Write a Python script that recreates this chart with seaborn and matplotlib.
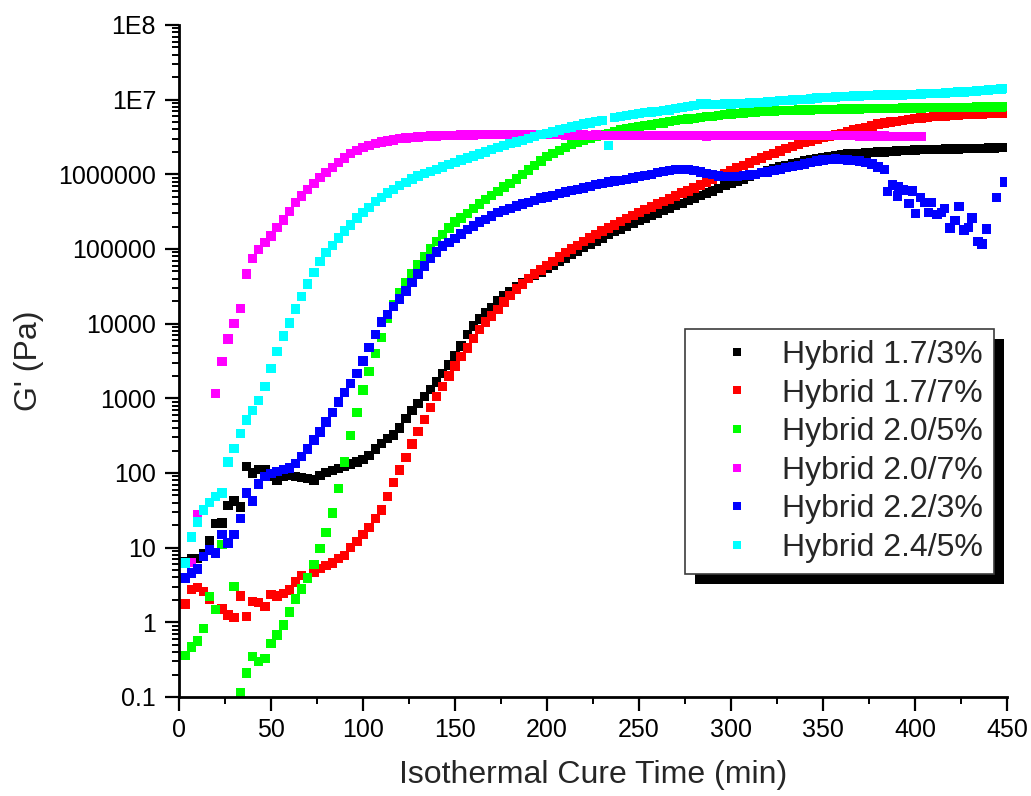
import numpy as np
import pandas as pd
import matplotlib
matplotlib.use("Agg")
import matplotlib.pyplot as plt
from matplotlib.lines import Line2D
from matplotlib.patches import Rectangle
from matplotlib.ticker import FixedLocator, FixedFormatter, LogLocator, MultipleLocator, NullFormatter
import seaborn as sns

# Rheometer sampling instants (min), one reading every 200 s
time_min = [
    3.3, 6.7, 10.0, 13.3, 16.7, 20.0, 23.3, 26.7, 30.0,
    33.3, 36.7, 40.0, 43.3, 46.7, 50.0, 53.3, 56.7, 60.0,
    63.3, 66.7, 70.0, 73.3, 76.7, 80.0, 83.3, 86.7, 90.0,
    93.3, 96.7, 100.0, 103.3, 106.7, 110.0, 113.3, 116.7, 120.0,
    123.3, 126.7, 130.0, 133.3, 136.7, 140.0, 143.3, 146.7, 150.0,
    153.3, 156.7, 160.0, 163.3, 166.7, 170.0, 173.3, 176.7, 180.0,
    183.3, 186.7, 190.0, 193.3, 196.7, 200.0, 203.3, 206.7, 210.0,
    213.3, 216.7, 220.0, 223.3, 226.7, 230.0, 233.3, 236.7, 240.0,
    243.3, 246.7, 250.0, 253.3, 256.7, 260.0, 263.3, 266.7, 270.0,
    273.3, 276.7, 280.0, 283.3, 286.7, 290.0, 293.3, 296.7, 300.0,
    303.3, 306.7, 310.0, 313.3, 316.7, 320.0, 323.3, 326.7, 330.0,
    333.3, 336.7, 340.0, 343.3, 346.7, 350.0, 353.3, 356.7, 360.0,
    363.3, 366.7, 370.0, 373.3, 376.7, 380.0, 383.3, 386.7, 390.0,
    393.3, 396.7, 400.0, 403.3, 406.7, 410.0, 413.3, 416.7, 420.0,
    423.3, 426.7, 430.0, 433.3, 436.7, 440.0, 443.3, 446.7, 450.0,
]

nan = np.nan

# Storage modulus G' (Pa) per sample
g_hybrid_17_3 = [
    6.5, 7.1, 7.2, 8.3, 12.3, 21, 21.5, 37, 42,
    35, 123, 100, 112, 112, 89, 81, 89, 93,
    89, 87, 85, 81, 93, 102, 107, 115, 123,
    132, 141, 151, 170, 209, 250, 288, 324, 400,
    540, 690, 850, 1050, 1320, 1660, 2140, 2800, 3700,
    5000, 7100, 9300, 1.15e4, 1.38e4, 1.66e4, 2.0e4, 2.35e4, 2.7e4,
    3.1e4, 3.55e4, 4.0e4, 4.4e4, 4.9e4, 5.5e4, 6.1e4, 6.8e4, 7.6e4,
    8.4e4, 9.3e4, 1.05e5, 1.15e5, 1.27e5, 1.41e5, 1.55e5, 1.7e5, 1.86e5,
    2.0e5, 2.2e5, 2.4e5, 2.57e5, 2.8e5, 3.0e5, 3.25e5, 3.5e5, 3.8e5,
    4.1e5, 4.45e5, 4.8e5, 5.2e5, 5.6e5, 6.0e5, 6.5e5, 7.1e5, 7.6e5,
    8.1e5, 8.7e5, 9.3e5, 9.9e5, 1.05e6, 1.12e6, 1.19e6, 1.26e6, 1.32e6,
    1.38e6, 1.45e6, 1.51e6, 1.57e6, 1.62e6, 1.66e6, 1.72e6, 1.78e6, 1.82e6,
    1.86e6, 1.88e6, 1.9e6, 1.93e6, 1.95e6, 2.0e6, 2.0e6, 2.02e6, 2.04e6,
    2.07e6, 2.09e6, 2.11e6, 2.14e6, 2.14e6, 2.15e6, 2.16e6, 2.17e6, 2.18e6,
    2.19e6, 2.2e6, 2.21e6, 2.22e6, 2.23e6, 2.24e6, 2.25e6, 2.27e6, 2.29e6,
]

g_hybrid_17_7 = [
    1.75, 2.75, 2.9, 2.6, 2.05, 1.48, 1.5, 1.26, 1.17,
    2.25, 1.2, 1.9, 1.85, 1.62, 2.35, 2.25, 2.45, 2.7,
    3.45, 4.25, 3.9, 4.7, 5.25, 5.75, 6.2, 7.1, 7.9,
    10, 12, 15, 18.6, 24.5, 32, 48, 74, 110,
    162, 245, 360, 525, 760, 1050, 1450, 2000, 2700,
    3600, 4700, 6300, 8300, 1.05e4, 1.26e4, 1.55e4, 1.95e4, 2.4e4,
    2.9e4, 3.4e4, 4.0e4, 4.6e4, 5.2e4, 6.0e4, 6.8e4, 7.8e4, 8.9e4,
    1.0e5, 1.12e5, 1.26e5, 1.4e5, 1.55e5, 1.74e5, 1.9e5, 2.1e5, 2.35e5,
    2.55e5, 2.8e5, 3.1e5, 3.35e5, 3.65e5, 4.0e5, 4.3e5, 4.7e5, 5.1e5,
    5.6e5, 6.0e5, 6.6e5, 7.2e5, 7.9e5, 8.7e5, 9.4e5, 1.02e6, 1.12e6,
    1.22e6, 1.32e6, 1.41e6, 1.53e6, 1.66e6, 1.78e6, 1.9e6, 2.04e6, 2.2e6,
    2.35e6, 2.5e6, 2.65e6, 2.8e6, 2.95e6, 3.1e6, 3.25e6, 3.4e6, 3.55e6,
    3.7e6, 3.9e6, 4.1e6, 4.25e6, 4.45e6, 4.7e6, 4.85e6, 5.0e6, 5.1e6,
    5.25e6, 5.4e6, 5.55e6, 5.7e6, 5.8e6, 5.9e6, 5.95e6, 6.0e6, 6.15e6,
    6.2e6, 6.3e6, 6.35e6, 6.4e6, 6.45e6, 6.5e6, 6.55e6, 6.6e6, 6.6e6,
]

g_hybrid_20_5 = [
    0.36, 0.47, 0.56, 0.83, 2.2, 1.48, 11, nan, 3.0,
    0.115, 0.21, 0.35, 0.30, 0.33, 0.52, 0.68, 0.92, 1.38,
    2.05, 2.8, 3.9, 5.9, 9.8, 16, 29, 62, 140,
    320, 650, 1300, 2300, 4000, 6500, 1.17e4, 1.8e4, 2.6e4,
    3.5e4, 4.7e4, 6.2e4, 7.9e4, 1.0e5, 1.26e5, 1.55e5, 1.9e5, 2.3e5,
    2.6e5, 3.0e5, 3.5e5, 4.0e5, 4.6e5, 5.2e5, 5.9e5, 6.8e5, 7.6e5,
    8.7e5, 1.0e6, 1.15e6, 1.32e6, 1.51e6, 1.72e6, 1.9e6, 2.1e6, 2.3e6,
    2.5e6, 2.7e6, 2.85e6, 3.0e6, 3.25e6, 3.4e6, 3.55e6, 3.7e6, 3.9e6,
    4.05e6, 4.25e6, 4.4e6, 4.5e6, 4.6e6, 4.8e6, 4.9e6, 5.1e6, 5.25e6,
    5.4e6, 5.5e6, 5.6e6, 5.8e6, 5.9e6, 6.0e6, 6.15e6, 6.3e6, 6.4e6,
    6.5e6, 6.6e6, 6.75e6, 6.85e6, 6.9e6, 7.0e6, 7.05e6, 7.1e6, 7.15e6,
    7.2e6, 7.25e6, 7.3e6, 7.3e6, 7.35e6, 7.35e6, 7.4e6, 7.4e6, 7.45e6,
    7.45e6, 7.5e6, 7.5e6, 7.55e6, 7.55e6, 7.6e6, 7.6e6, 7.65e6, 7.65e6,
    7.7e6, 7.7e6, 7.75e6, 7.75e6, 7.8e6, 7.8e6, 7.8e6, 7.85e6, 7.85e6,
    7.9e6, 7.9e6, 7.9e6, 7.95e6, 7.95e6, 8.0e6, 8.0e6, 8.0e6, 8.05e6,
]

g_hybrid_20_7 = [
    3.9, 6.3, 28, nan, nan, 1170, 3100, 6200, 1.0e4,
    1.6e4, 4.6e4, 7.4e4, 9.9e4, 1.23e5, 1.5e5, 1.95e5, 2.45e5, 3.2e5,
    4.2e5, 5.1e5, 6.3e5, 7.6e5, 9.1e5, 1.05e6, 1.23e6, 1.45e6, 1.66e6,
    1.9e6, 2.1e6, 2.3e6, 2.45e6, 2.6e6, 2.7e6, 2.8e6, 2.9e6, 3.0e6,
    3.05e6, 3.1e6, 3.15e6, 3.2e6, 3.25e6, 3.25e6, 3.3e6, 3.3e6, 3.3e6,
    3.35e6, 3.35e6, 3.35e6, 3.4e6, 3.4e6, 3.4e6, 3.4e6, 3.4e6, 3.4e6,
    3.4e6, 3.4e6, 3.4e6, 3.4e6, 3.4e6, 3.4e6, 3.4e6, 3.4e6, 3.35e6,
    3.35e6, 3.35e6, 3.35e6, 3.3e6, 3.35e6, 3.3e6, 3.3e6, 3.3e6, 3.3e6,
    3.3e6, 3.3e6, 3.3e6, 3.3e6, 3.3e6, 3.3e6, 3.3e6, 3.3e6, 3.3e6,
    3.3e6, 3.3e6, 3.3e6, 3.3e6, 3.25e6, 3.3e6, 3.3e6, 3.3e6, 3.3e6,
    3.3e6, 3.3e6, 3.3e6, 3.3e6, 3.3e6, 3.3e6, 3.3e6, 3.3e6, 3.3e6,
    3.3e6, 3.3e6, 3.3e6, 3.3e6, 3.3e6, 3.3e6, 3.3e6, 3.3e6, 3.3e6,
    3.3e6, 3.3e6, 3.25e6, 3.25e6, 3.25e6, 3.25e6, 3.25e6, 3.2e6, 3.2e6,
    3.2e6, 3.2e6, 3.2e6, 3.2e6, nan, nan, nan, nan, nan,
    nan, nan, nan, nan, nan, nan, nan, nan, nan,
]

g_hybrid_22_3 = [
    3.9, 4.6, 5.2, 7.6, 9.3, 8.5, 15, 11.5, 15,
    24.5, 54, 42, 71, 89, 98, 105, 112, 117,
    135, 166, 209, 275, 355, 480, 650, 890, 1200,
    1580, 2140, 3160, 4800, 7200, 1.05e4, 1.32e4, 1.7e4, 2.15e4,
    2.75e4, 3.55e4, 4.6e4, 5.9e4, 7.4e4, 9.1e4, 1.1e5, 1.23e5, 1.38e5,
    1.58e5, 1.82e5, 2.04e5, 2.3e5, 2.5e5, 2.75e5, 3.1e5, 3.3e5, 3.5e5,
    3.75e5, 4.0e5, 4.2e5, 4.5e5, 4.8e5, 5.0e5, 5.25e5, 5.5e5, 5.8e5,
    6.1e5, 6.3e5, 6.6e5, 6.9e5, 7.3e5, 7.6e5, 7.85e5, 8.1e5, 8.3e5,
    8.6e5, 8.9e5, 9.3e5, 9.7e5, 1.0e6, 1.05e6, 1.1e6, 1.13e6, 1.16e6,
    1.17e6, 1.16e6, 1.12e6, 1.08e6, 1.02e6, 9.9e5, 9.5e5, 9.3e5, 9.3e5,
    9.4e5, 9.6e5, 9.8e5, 1.0e6, 1.05e6, 1.08e6, 1.12e6, 1.17e6, 1.23e6,
    1.27e6, 1.32e6, 1.38e6, 1.45e6, 1.5e6, 1.55e6, 1.58e6, 1.6e6, 1.58e6,
    1.55e6, 1.53e6, 1.5e6, 1.45e6, 1.38e6, 1.26e6, 1.17e6, nan, nan,
    nan, nan, nan, nan, nan, nan, nan, nan, nan,
    nan, nan, nan, nan, nan, nan, nan, nan, nan,
]

# Late readings of the 2.2/3% sample, taken once the gel began to slip
tail_time_22_3 = [
    385.0, 387.9, 390.4, 391.0, 393.7, 396.7, 398.7, 400.2, 403.0,
    405.4, 407.2, 409.0, 412.0, 414.5, 416.0, 419.0, 421.7, 424.0,
    426.6, 429.0, 431.0, 434.2, 436.4, 439.0, 444.4, 449.0,
]
tail_g_22_3 = [
    5.9e5, 7.2e5, 5.1e5, 6.9e5, 6.2e5, 4.1e5, 6.0e5, 3.0e5, 4.9e5,
    4.2e5, 3.1e5, 4.2e5, 2.9e5, 3.1e5, 3.5e5, 1.9e5, 2.4e5, 3.7e5,
    1.8e5, 1.95e5, 2.6e5, 1.26e5, 1.17e5, 1.86e5, 4.9e5, 7.9e5,
]

g_hybrid_24_5 = [
    6.2, 13.8, 22, 32, 40, 48, 54, 141, 214,
    340, 510, 690, 930, 1450, 2500, 4200, 6800, 1.02e4,
    1.58e4, 2.3e4, 3.4e4, 4.8e4, 6.8e4, 8.9e4, 1.12e5, 1.41e5, 1.74e5,
    2.1e5, 2.6e5, 3.1e5, 3.6e5, 4.3e5, 4.9e5, 5.6e5, 6.3e5, 7.1e5,
    7.8e5, 8.7e5, 9.5e5, 1.02e6, 1.1e6, 1.17e6, 1.26e6, 1.35e6, 1.45e6,
    1.55e6, 1.65e6, 1.76e6, 1.86e6, 2.0e6, 2.14e6, 2.3e6, 2.45e6, 2.57e6,
    2.7e6, 2.85e6, 3.0e6, 3.2e6, 3.4e6, 3.55e6, 3.7e6, 3.9e6, 4.1e6,
    4.3e6, 4.5e6, 4.7e6, 4.9e6, 5.1e6, 5.25e6, 2.45e6, 5.75e6, 5.9e6,
    6.1e6, 6.3e6, 6.5e6, 6.7e6, 6.8e6, 6.9e6, 7.1e6, 7.3e6, 7.6e6,
    7.8e6, 8.1e6, 8.4e6, 8.7e6, 8.7e6, 8.6e6, 8.6e6, 8.7e6, 8.8e6,
    8.9e6, 8.9e6, 9.0e6, 9.1e6, 9.2e6, 9.3e6, 9.5e6, 9.7e6, 9.8e6,
    9.9e6, 1.0e7, 1.01e7, 1.02e7, 1.05e7, 1.06e7, 1.07e7, 1.08e7, 1.1e7,
    1.11e7, 1.12e7, 1.12e7, 1.13e7, 1.14e7, 1.15e7, 1.15e7, 1.15e7, 1.16e7,
    1.16e7, 1.17e7, 1.18e7, 1.19e7, 1.2e7, 1.2e7, 1.22e7, 1.23e7, 1.24e7,
    1.26e7, 1.27e7, 1.29e7, 1.31e7, 1.33e7, 1.35e7, 1.37e7, 1.39e7, 1.41e7,
]

samples = ["Hybrid 1.7/3%", "Hybrid 1.7/7%", "Hybrid 2.0/5%",
           "Hybrid 2.0/7%", "Hybrid 2.2/3%", "Hybrid 2.4/5%"]
colors = ["#000000", "#FF0000", "#00FF00", "#FF00FF", "#0000FF", "#00FFFF"]

x_ticks = [0, 50, 100, 150, 200, 250, 300, 350, 400, 450]
y_ticks = [0.1, 1, 10, 100, 1e3, 1e4, 1e5, 1e6, 1e7, 1e8]
y_tick_labels = ["0.1", "1", "10", "100", "1000", "10000", "100000",
                 "1000000", "1E7", "1E8"]

# ---- assemble long-form table (draw order: black ... cyan on top) ----
pieces = []
for name, values in zip(samples, [g_hybrid_17_3, g_hybrid_17_7, g_hybrid_20_5,
                                  g_hybrid_20_7, g_hybrid_22_3]):
    pieces.append(pd.DataFrame({"time": time_min, "gp": values, "sample": name}))
pieces.append(pd.DataFrame({"time": tail_time_22_3, "gp": tail_g_22_3,
                            "sample": samples[4]}))
pieces.append(pd.DataFrame({"time": time_min, "gp": g_hybrid_24_5,
                            "sample": samples[5]}))
df = pd.concat(pieces, ignore_index=True).dropna()

sns.set_style("ticks")
plt.rcParams["font.family"] = ["Liberation Sans", "DejaVu Sans"]

fig = plt.figure(figsize=(10.31, 7.96), dpi=100)
ax = fig.add_axes([0.1736, 0.1244, 0.8031, 0.8442])

palette = dict(zip(samples, colors))
sns.scatterplot(data=df, x="time", y="gp", hue="sample", hue_order=samples,
                palette=palette, marker="s", s=46, linewidth=0,
                legend=False, ax=ax)

ax.set_yscale("log")
ax.set_xlim(0, 450)
ax.set_ylim(0.1, 1e8)

ax.xaxis.set_major_locator(FixedLocator(x_ticks))
ax.xaxis.set_minor_locator(MultipleLocator(25))
ax.yaxis.set_major_locator(FixedLocator(y_ticks))
ax.yaxis.set_major_formatter(FixedFormatter(y_tick_labels))
ax.yaxis.set_minor_locator(LogLocator(base=10, subs=np.arange(2, 10), numticks=20))
ax.yaxis.set_minor_formatter(NullFormatter())

for side in ("top", "right"):
    ax.spines[side].set_visible(False)
for side in ("left", "bottom"):
    ax.spines[side].set_linewidth(2.0)
    ax.spines[side].set_color("black")

ax.tick_params(axis="both", which="major", direction="out", length=10,
               width=1.6, color="black", labelsize=18, labelcolor="black")
ax.tick_params(axis="both", which="minor", direction="out", length=5,
               width=1.4, color="black")
ax.tick_params(axis="y", which="major", pad=6.5)
ax.tick_params(axis="x", which="major", pad=5)

ax.set_xlabel("Isothermal Cure Time (min)", fontsize=23, labelpad=13)
ax.set_ylabel("G' (Pa)", fontsize=23, labelpad=10)
ax.grid(False)

handles = [Line2D([], [], marker="s", linestyle="", color=c, markersize=5.8,
                  markeredgewidth=0) for c in colors]
leg = ax.legend(handles, samples, loc="upper left", bbox_to_anchor=(0.611, 0.548),
                borderaxespad=0, frameon=True, fancybox=False, framealpha=1,
                edgecolor="#3c3c3c", fontsize=23, handlelength=2.55,
                handletextpad=0.15, borderpad=0.35, labelspacing=0.27)
leg.get_frame().set_linewidth(1.2)
leg.set_zorder(6)

# drop shadow under the legend box
fig.canvas.draw()
renderer = fig.canvas.get_renderer()
bb = leg.get_frame().get_window_extent(renderer)
inv = ax.transAxes.inverted()
x0, y0 = inv.transform((bb.x0 + 10, bb.y0 - 10))
x1, y1 = inv.transform((bb.x1 + 10, bb.y1 - 10))
ax.add_patch(Rectangle((x0, y0), x1 - x0, y1 - y0, transform=ax.transAxes,
                       facecolor="black", edgecolor="none", zorder=5.5,
                       clip_on=False))

fig.savefig("out.png", dpi=100)
